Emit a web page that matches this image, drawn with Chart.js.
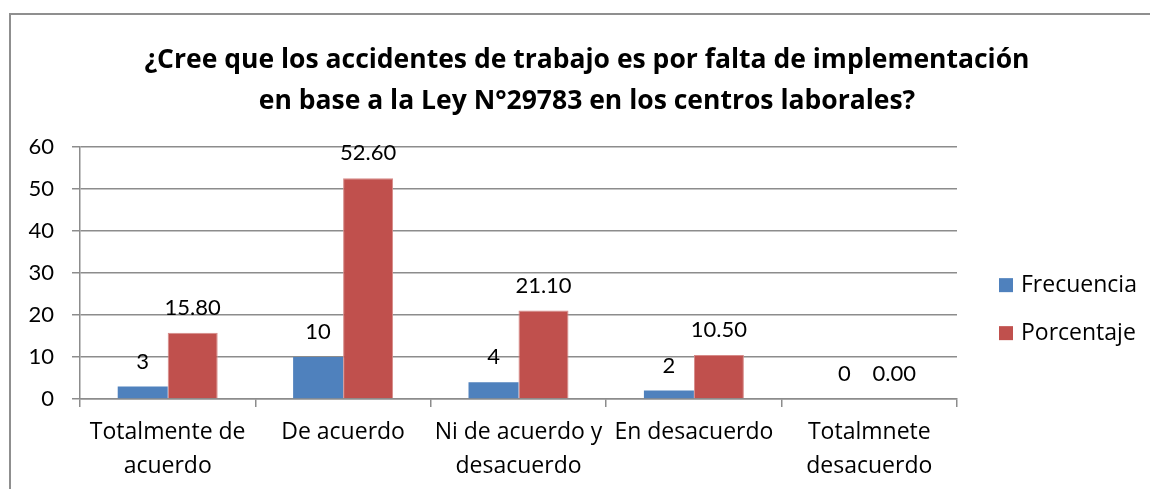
<!DOCTYPE html>
<html>
<head>
<meta charset="utf-8">
<script src="https://cdn.jsdelivr.net/npm/chart.js@4.4.1/dist/chart.umd.min.js"></script>
<style>
  html, body { margin: 0; padding: 0; background: #fff; }
  #wrap { position: relative; width: 1150px; height: 489px; overflow: hidden; }
  #frame { position: absolute; left: 9px; top: 13px; right: -5px; bottom: -5px;
           border-top: 2px solid #8f8f8f; border-left: 2px solid #8f8f8f; }
  #c { position: absolute; left: 0; top: 0; }
</style>
</head>
<body>
<div id="wrap">
  <div id="frame"></div>
  <canvas id="c" width="1150" height="489"></canvas>
</div>
<script>
// ── data ──────────────────────────────────────────────────────────────
const categories = [
  ['Totalmente de', 'acuerdo'],
  'De acuerdo',
  ['Ni de acuerdo y', 'desacuerdo'],
  'En desacuerdo',
  ['Totalmnete', 'desacuerdo']
];
const frecuencia = [3, 10, 4, 2, 0];
const porcentaje = [15.8, 52.6, 21.1, 10.5, 0.0];
const titleLines = [
  '¿Cree que los accidentes de trabajo es por falta de implementación',
  'en base a la Ley N°29783 en los centros laborales?'
];
const yTicks = [0, 10, 20, 30, 40, 50, 60];

const TEXT_FONT = '"Open Sans", "Noto Sans", sans-serif';
const NUM_FONT  = 'Lato, "Open Sans", sans-serif';
const BLUE = '#4f81bd';
const RED  = '#c0504d';
const GRID = '#8c8c8c';

// value labels above each bar
const barLabels = {
  id: 'barLabels',
  afterDatasetsDraw(chart) {
    const ctx = chart.ctx;
    ctx.save();
    ctx.font = '22px ' + NUM_FONT;
    ctx.fillStyle = '#000';
    ctx.textAlign = 'center';
    ctx.textBaseline = 'middle';
    chart.data.datasets.forEach((ds, di) => {
      chart.getDatasetMeta(di).data.forEach((bar, i) => {
        const v = ds.data[i];
        const txt = ds._fmt ? ds._fmt(v) : String(v);
        ctx.fillText(txt, bar.x, bar.y - 25);
      });
    });
    ctx.restore();
  }
};

// legend drawn beside the plot, Excel-style
const sideLegend = {
  id: 'sideLegend',
  afterDraw(chart) {
    const { ctx, chartArea } = chart;
    ctx.save();
    ctx.font = '23px ' + TEXT_FONT;
    ctx.textBaseline = 'middle';
    chart.data.datasets.forEach((ds, i) => {
      const x = chartArea.right + 42;
      const y = chartArea.top + 138 + i * 48;
      ctx.fillStyle = ds.backgroundColor;
      ctx.fillRect(x, y - 7, 14, 14);
      ctx.fillStyle = '#000';
      ctx.fillText(ds.label, x + 22, y);
    });
    ctx.restore();
  }
};

new Chart(document.getElementById('c'), {
  type: 'bar',
  data: {
    labels: categories,
    datasets: [
      { label: 'Frecuencia', data: frecuencia, backgroundColor: BLUE,
        _fmt: v => String(v) },
      { label: 'Porcentaje', data: porcentaje, backgroundColor: RED,
        borderColor: '#d68a88', borderWidth: 1,
        _fmt: v => v.toFixed(2) }
    ]
  },
  options: {
    responsive: false,
    animation: false,
    devicePixelRatio: 1,
    categoryPercentage: 0.57,
    barPercentage: 1.0,
    layout: { padding: { left: 24, right: 0, bottom: 0, top: 0 } },
    plugins: {
      legend: { display: false },
      tooltip: { enabled: false },
      title: {
        display: true,
        text: titleLines,
        color: '#000',
        font: { family: TEXT_FONT, size: 26.5, weight: 'bold', lineHeight: 1.55 },
        padding: { top: 40, bottom: 25 }
      }
    },
    scales: {
      x: {
        grid: { display: true, drawOnChartArea: false, drawTicks: true, tickLength: 8,
                color: GRID, lineWidth: 1.5 },
        border: { display: true, color: GRID, width: 1.5 },
        ticks: { color: '#000', padding: 8, maxRotation: 0, autoSkip: false,
                 font: { family: TEXT_FONT, size: 23, lineHeight: 1.48 } },
        afterFit: s => { s.height = 90; }
      },
      y: {
        min: 0, max: 60,
        afterBuildTicks: s => { s.ticks = yTicks.map(v => ({ value: v })); },
        grid: { color: GRID, lineWidth: 1.5, tickLength: 8, drawTicks: true },
        border: { display: true, color: GRID, width: 1.5 },
        ticks: { color: '#000', padding: 18, font: { family: NUM_FONT, size: 22 } },
        afterFit: s => { s.width = 56; }
      },
      // empty right-hand axis that reserves room for the legend
      side: {
        type: 'linear', position: 'right', display: true,
        grid: { display: false }, border: { display: false },
        ticks: { display: false },
        afterFit: s => { s.width = 193; }
      }
    }
  },
  plugins: [barLabels, sideLegend]
});
</script>
</body>
</html>
